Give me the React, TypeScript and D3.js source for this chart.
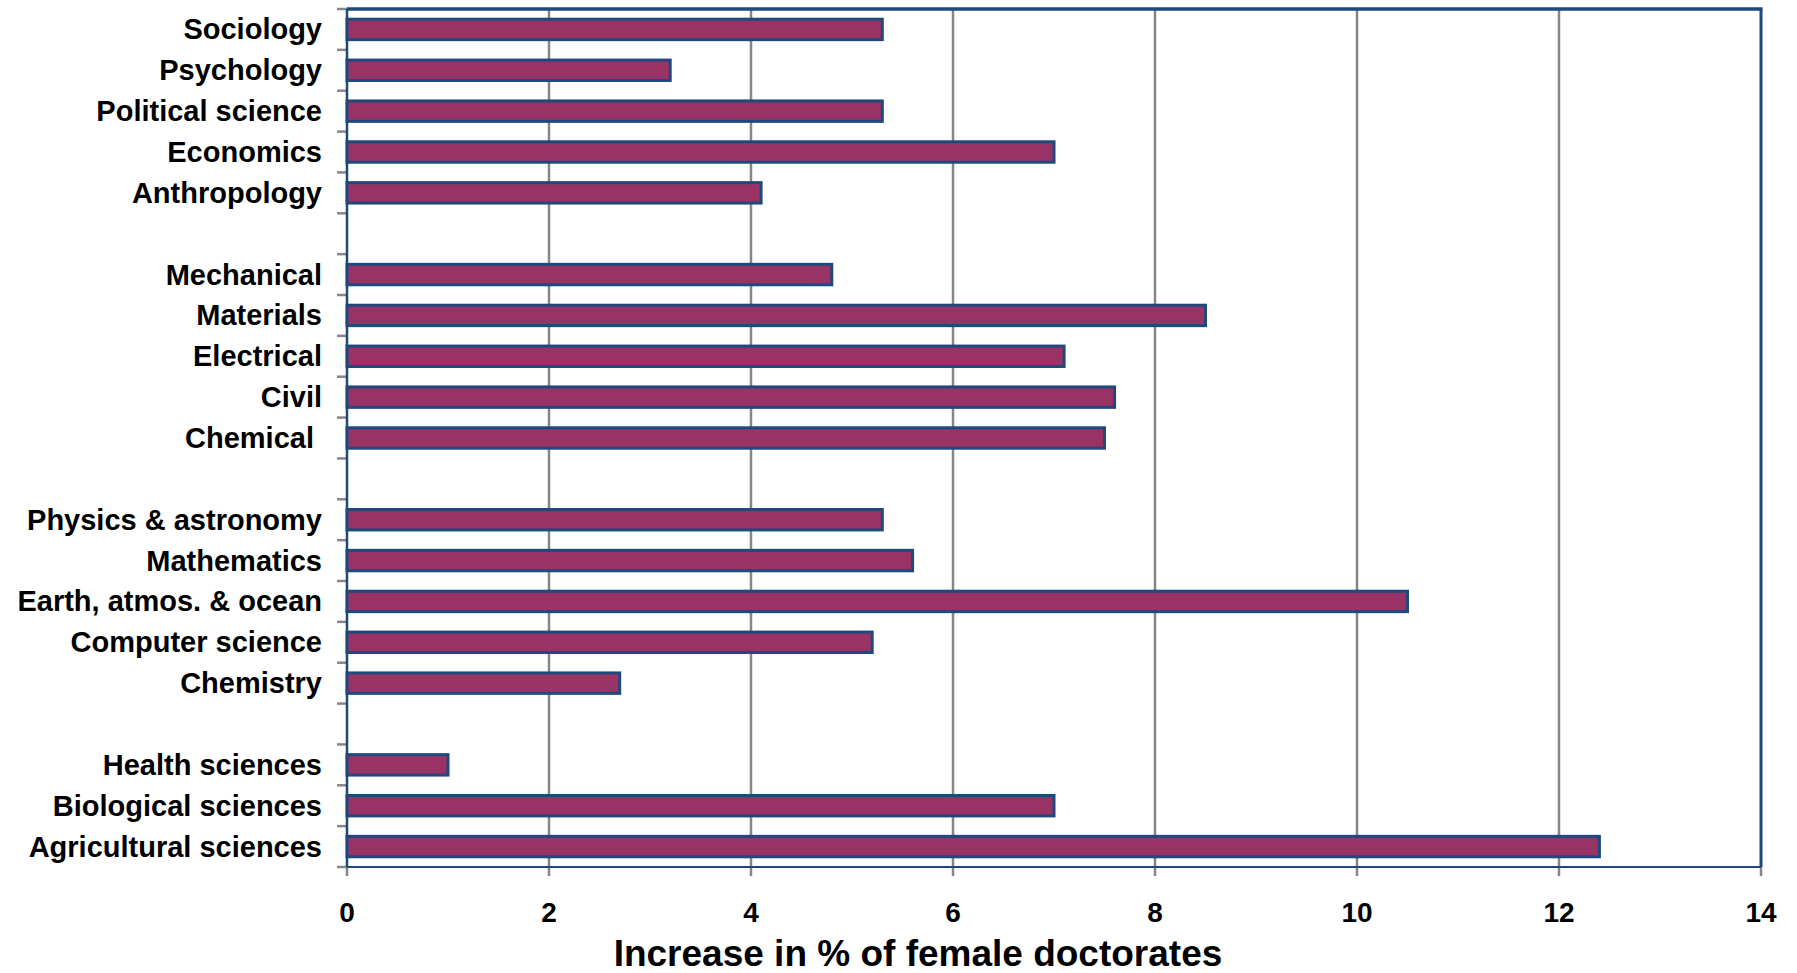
import React, { useEffect, useRef } from "react";
import * as d3 from "d3";

const categories: string[] = [
  "Sociology", "Psychology", "Political science", "Economics", "Anthropology", "gap1",
  "Mechanical", "Materials", "Electrical", "Civil", "Chemical ", "gap2",
  "Physics & astronomy", "Mathematics", "Earth, atmos. & ocean", "Computer science", "Chemistry", "gap3",
  "Health sciences", "Biological sciences", "Agricultural sciences",
];
const values: (number | null)[] = [
  5.3, 3.2, 5.3, 7.0, 4.1, null,
  4.8, 8.5, 7.1, 7.6, 7.5, null,
  5.3, 5.6, 10.5, 5.2, 2.7, null,
  1.0, 7.0, 12.4,
];
const xTicks: number[] = [0, 2, 4, 6, 8, 10, 12, 14];
const xTitle = "Increase in % of female doctorates";

const W = 1797, H = 973;
const M = { left: 347, right: 1761, top: 9, bottom: 867 };
const BLUE = "#1F497D";
const FILL = "#993366";
const GRID = "#868686";

export default function App() {
  const ref = useRef<SVGSVGElement>(null);
  useEffect(() => {
    const svg = d3.select(ref.current);
    svg.selectAll("*").remove();
    const x = d3.scaleLinear().domain([0, 14]).range([M.left, M.right]);
    const y = d3.scaleBand<string>().domain(categories).range([M.top, M.bottom]).paddingInner(0.5).paddingOuter(0.25);
    const step = y.step();

    // gridlines
    svg.append("g").selectAll("line").data(xTicks.filter(t => t > 0 && t < 14)).join("line")
      .attr("x1", d => x(d)).attr("x2", d => x(d)).attr("y1", M.top).attr("y2", M.bottom + 9)
      .attr("stroke", GRID).attr("stroke-width", 2.5);
    // x tick marks at 0 and 14
    svg.append("g").selectAll("line").data([0, 14]).join("line")
      .attr("x1", d => x(d)).attr("x2", d => x(d)).attr("y1", M.bottom).attr("y2", M.bottom + 9)
      .attr("stroke", GRID).attr("stroke-width", 2.5);
    // y tick marks at boundaries
    const bounds = d3.range(categories.length + 1).map(i => M.top + i * step);
    svg.append("g").selectAll("line").data(bounds).join("line")
      .attr("x1", M.left - 10).attr("x2", M.left).attr("y1", d => d).attr("y2", d => d)
      .attr("stroke", GRID).attr("stroke-width", 2.5);

    // borders
    svg.append("line").attr("x1", M.left).attr("x2", M.right).attr("y1", M.bottom).attr("y2", M.bottom)
      .attr("stroke", BLUE).attr("stroke-width", 1.8);
    svg.append("line").attr("x1", M.left).attr("x2", M.right + 1.5).attr("y1", M.top).attr("y2", M.top)
      .attr("stroke", BLUE).attr("stroke-width", 3.5);
    svg.append("line").attr("x1", M.right).attr("x2", M.right).attr("y1", M.top).attr("y2", M.bottom)
      .attr("stroke", BLUE).attr("stroke-width", 3);
    svg.append("line").attr("x1", M.left).attr("x2", M.left).attr("y1", M.top).attr("y2", M.bottom)
      .attr("stroke", BLUE).attr("stroke-width", 2.5);

    // bars
    const data = categories.map((c, i) => ({ c, v: values[i] })).filter(d => d.v !== null) as { c: string; v: number }[];
    svg.append("g").selectAll("rect").data(data).join("rect")
      .attr("x", x(0)).attr("y", d => y(d.c)!)
      .attr("width", d => x(d.v) - x(0)).attr("height", y.bandwidth())
      .attr("fill", FILL).attr("stroke", BLUE).attr("stroke-width", 3);

    // y labels
    svg.append("g").selectAll("text").data(data).join("text")
      .attr("x", 322).attr("y", d => y(d.c)! + y.bandwidth() / 2)
      .attr("text-anchor", "end").attr("dominant-baseline", "central")
      .attr("font-family", "Liberation Sans, Arial, sans-serif").attr("font-weight", "bold")
      .attr("font-size", 29).style("white-space", "pre").attr("fill", "#000")
      .text(d => d.c);

    // x labels
    svg.append("g").selectAll("text").data(xTicks).join("text")
      .attr("x", d => x(d)).attr("y", 912)
      .attr("text-anchor", "middle").attr("dominant-baseline", "central")
      .attr("font-family", "Liberation Sans, Arial, sans-serif").attr("font-weight", "bold")
      .attr("font-size", 28).attr("fill", "#000")
      .text(d => String(d));

    svg.append("text").attr("x", 918).attr("y", 966)
      .attr("text-anchor", "middle")
      .attr("font-family", "Liberation Sans, Arial, sans-serif").attr("font-weight", "bold")
      .attr("font-size", 37).attr("fill", "#000").text(xTitle);
  }, []);
  return (
    <svg ref={ref} width={W} height={H} style={{ position: "absolute", left: 0, top: 0, background: "#fff", display: "block" }} />
  );
}
